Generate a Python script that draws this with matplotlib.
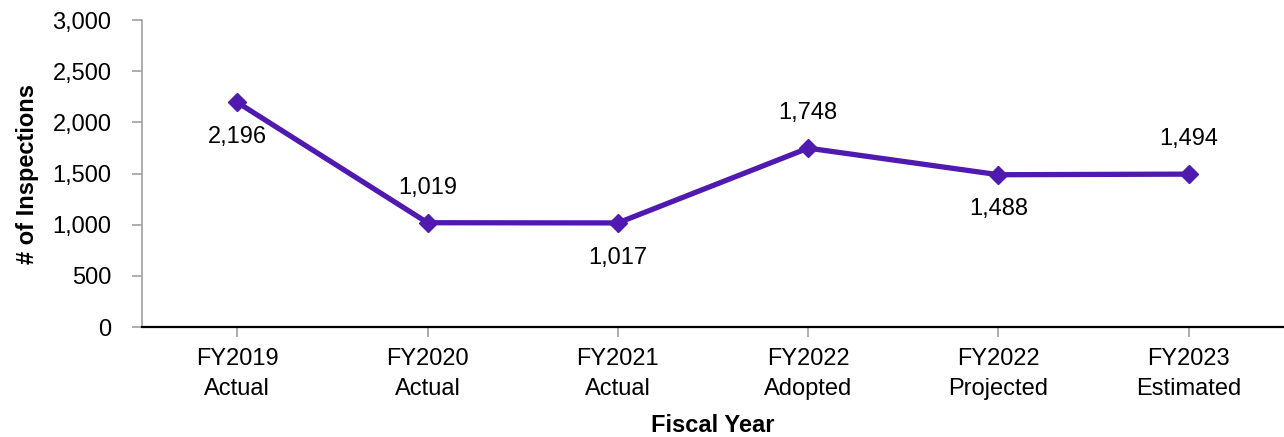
import matplotlib
matplotlib.use("Agg")
import matplotlib.pyplot as plt

categories = ["FY2019\nActual", "FY2020\nActual", "FY2021\nActual",
              "FY2022\nAdopted", "FY2022\nProjected", "FY2023\nEstimated"]
values = [2196, 1019, 1017, 1748, 1488, 1494]
label_pos = ["below", "above", "below", "above", "below", "above"]
yticks = [0, 500, 1000, 1500, 2000, 2500, 3000]

plt.rcParams['font.family'] = ['Liberation Sans', 'DejaVu Sans']

fig = plt.figure(figsize=(12.84, 4.37), dpi=100)
ax = fig.add_axes([142/1284, 1-327/437, 1-142/1284, (327-20)/437])

color = '#5019AF'
x = list(range(len(values)))
ax.plot(x, values, color=color, linewidth=3.8, marker='D', markersize=9.5,
        markerfacecolor=color, markeredgecolor=color, zorder=3)

fs = 17
for xi, v, pos in zip(x, values, label_pos):
    off = 25 if pos == "above" else -25
    ax.annotate(f"{v:,}", (xi, v), xytext=(0, off), textcoords='offset points',
                ha='center', va='center', fontsize=fs, color='black')

ax.set_xlim(-0.5, len(values) - 0.5)
ax.set_ylim(0, 3000)
ax.set_yticks(yticks)
ax.set_yticklabels([f"{t:,}" for t in yticks])
ax.set_xticks(x)
ax.set_xticklabels(categories, linespacing=1.5)

for s in ['top', 'right']:
    ax.spines[s].set_visible(False)
ax.spines['left'].set_color('#a0a0a0')
ax.spines['left'].set_linewidth(1.2)
ax.spines['bottom'].set_color('black')
ax.spines['bottom'].set_linewidth(1.6)

ax.tick_params(axis='y', length=7, width=1.2, color='#a0a0a0', labelsize=fs, pad=15)
ax.tick_params(axis='x', length=7, width=1.2, color='#a0a0a0', labelsize=fs, pad=8)

ax.set_ylabel("# of Inspections", fontsize=fs, fontweight='bold', labelpad=10)
ax.set_xlabel("Fiscal Year", fontsize=fs, fontweight='bold', labelpad=10)

fig.savefig("out.png", dpi=100)
